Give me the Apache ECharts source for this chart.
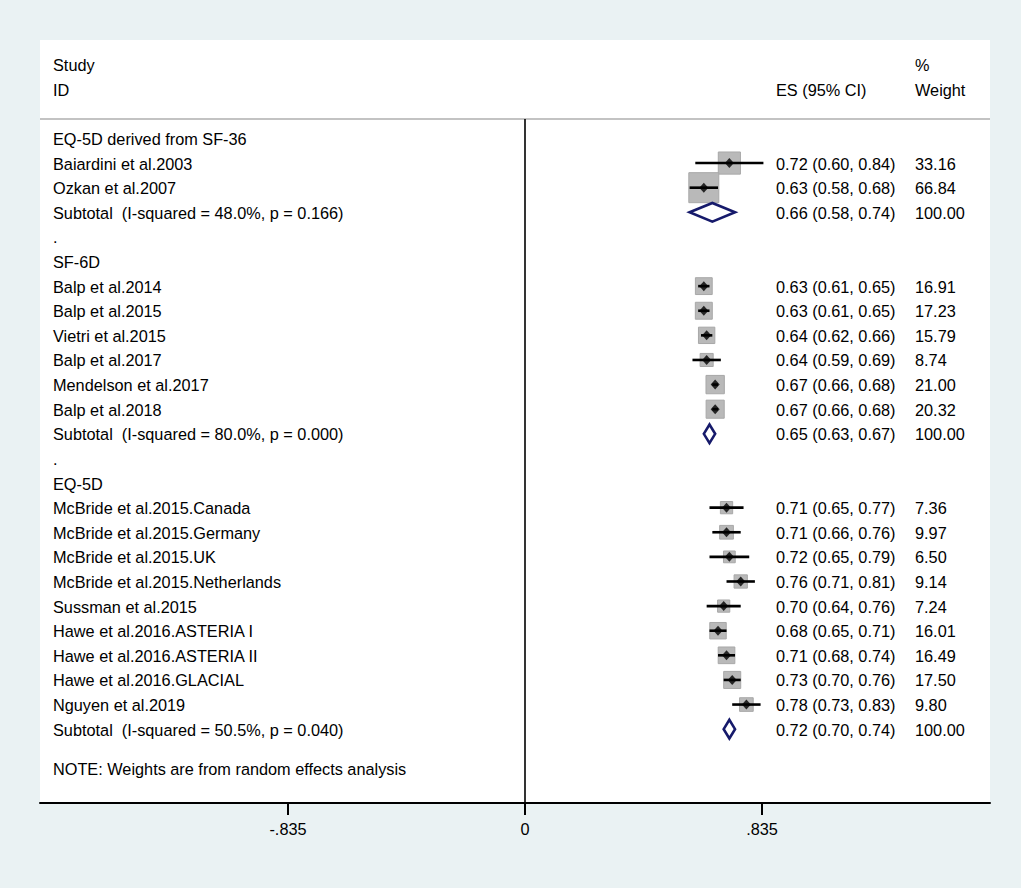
<!DOCTYPE html>
<html>
<head>
<meta charset="utf-8">
<title>Forest plot</title>
<script src="https://cdn.jsdelivr.net/npm/echarts@6/dist/echarts.min.js"></script>
<style>
  html, body { margin: 0; padding: 0; background: #eaf2f3; }
  #chart { width: 1021px; height: 888px; }
</style>
</head>
<body>
<div id="chart"></div>
<script>
// 研究名称、所在行、效应值及 95% CI、权重(%)
var studyNames = [
    'Baiardini et al.2003', 'Ozkan et al.2007',
    'Balp et al.2014', 'Balp et al.2015', 'Vietri et al.2015', 'Balp et al.2017',
    'Mendelson et al.2017', 'Balp et al.2018',
    'McBride et al.2015.Canada', 'McBride et al.2015.Germany', 'McBride et al.2015.UK',
    'McBride et al.2015.Netherlands', 'Sussman et al.2015', 'Hawe et al.2016.ASTERIA I',
    'Hawe et al.2016.ASTERIA II', 'Hawe et al.2016.GLACIAL', 'Nguyen et al.2019'
];
var studyRows = [1, 2, 6, 7, 8, 9, 10, 11, 15, 16, 17, 18, 19, 20, 21, 22, 23];
var studyES = [0.72, 0.63, 0.63, 0.63, 0.64, 0.64, 0.67, 0.67,
    0.71, 0.71, 0.72, 0.76, 0.70, 0.68, 0.71, 0.73, 0.78];
var studyLo = [0.60, 0.58, 0.61, 0.61, 0.62, 0.59, 0.66, 0.66,
    0.65, 0.66, 0.65, 0.71, 0.64, 0.65, 0.68, 0.70, 0.73];
var studyHi = [0.84, 0.68, 0.65, 0.65, 0.66, 0.69, 0.68, 0.68,
    0.77, 0.76, 0.79, 0.81, 0.76, 0.71, 0.74, 0.76, 0.83];
var studyWeight = ['33.16', '66.84', '16.91', '17.23', '15.79', '8.74', '21.00', '20.32',
    '7.36', '9.97', '6.50', '9.14', '7.24', '16.01', '16.49', '17.50', '9.80'];

// 亚组合并
var subLabels = [
    'Subtotal  (I-squared = 48.0%, p = 0.166)',
    'Subtotal  (I-squared = 80.0%, p = 0.000)',
    'Subtotal  (I-squared = 50.5%, p = 0.040)'
];
var subRows = [3, 12, 24];
var subES = [0.66, 0.65, 0.72];
var subLo = [0.58, 0.63, 0.70];
var subHi = [0.74, 0.67, 0.74];
var subWeight = ['100.00', '100.00', '100.00'];

var groupLabels = ['EQ-5D derived from SF-36', 'SF-6D', 'EQ-5D'];
var groupRows = [0, 5, 14];
var dotRows = [4, 13];

var xTicks = [-0.835, 0, 0.835];
var xTickLabels = ['-.835', '0', '.835'];

var noteText = 'NOTE: Weights are from random effects analysis';

var dom = document.getElementById('chart');
var myChart = echarts.init(dom, null, { renderer: 'svg' });

var FONT = 'Arial, "Liberation Sans", Helvetica, sans-serif';
var xMin = -1.7088, xMax = 1.6383;
var headRow = -0.79;

// 所有文字（左列 / ES 列 / 权重列）
var textItems = [];
textItems.push({ col: 'left', row: -3, text: 'Study' });
textItems.push({ col: 'left', row: -2, text: 'ID' });
textItems.push({ col: 'es', row: -2, text: 'ES (95% CI)' });
textItems.push({ col: 'w', row: -3, text: '%' });
textItems.push({ col: 'w', row: -2, text: 'Weight' });
groupLabels.forEach(function (t, i) { textItems.push({ col: 'left', row: groupRows[i], text: t }); });
dotRows.forEach(function (r) { textItems.push({ col: 'left', row: r, text: '.' }); });
studyNames.forEach(function (t, i) {
    textItems.push({ col: 'left', row: studyRows[i], text: t });
    textItems.push({ col: 'es', row: studyRows[i],
        text: studyES[i].toFixed(2) + ' (' + studyLo[i].toFixed(2) + ', ' + studyHi[i].toFixed(2) + ')' });
    textItems.push({ col: 'w', row: studyRows[i], text: studyWeight[i] });
});
subLabels.forEach(function (t, i) {
    textItems.push({ col: 'left', row: subRows[i], text: t });
    textItems.push({ col: 'es', row: subRows[i],
        text: subES[i].toFixed(2) + ' (' + subLo[i].toFixed(2) + ', ' + subHi[i].toFixed(2) + ')' });
    textItems.push({ col: 'w', row: subRows[i], text: subWeight[i] });
});
textItems.push({ col: 'left', row: 25.58, text: noteText });

var colPx = { left: 53, es: 776, w: 915 };

function boxSize(w) {
    return 3.5 + 3.24 * Math.sqrt(w);
}

var option = {
    backgroundColor: '#eaf2f3',
    animation: false,
    grid: {
        left: 40, right: 31, top: 40, bottom: 85,
        show: true, backgroundColor: '#ffffff', borderWidth: 0
    },
    xAxis: {
        type: 'value',
        min: xMin,
        max: xMax,
        splitLine: { show: false },
        axisLine: { show: true, onZero: false, lineStyle: { color: '#000', width: 2 } },
        axisTick: { show: true, customValues: xTicks, length: 12, lineStyle: { color: '#000', width: 2 } },
        axisLabel: {
            customValues: xTicks,
            margin: 18,
            color: '#000',
            fontSize: 16.3,
            fontFamily: FONT,
            formatter: function (v) {
                for (var i = 0; i < xTicks.length; i++) {
                    if (Math.abs(v - xTicks[i]) < 1e-6) return xTickLabels[i];
                }
                return '';
            }
        }
    },
    yAxis: {
        type: 'value',
        inverse: true,
        min: -4,
        max: 27,
        show: false
    },
    series: [
        {
            // 权重方块
            name: 'box',
            type: 'custom',
            silent: true,
            data: studyES.map(function (v, i) { return [v, studyRows[i], parseFloat(studyWeight[i])]; }),
            renderItem: function (params, api) {
                var c = api.coord([api.value(0), api.value(1)]);
                var s = boxSize(api.value(2));
                return {
                    type: 'rect',
                    shape: { x: c[0] - s / 2, y: c[1] - s / 2, width: s, height: s },
                    style: { fill: '#b9b9b9', stroke: '#a8a8a8', lineWidth: 1 }
                };
            },
            markLine: {
                silent: true,
                symbol: 'none',
                label: { show: false },
                data: [
                    [{ coord: [xMin, headRow], lineStyle: { color: '#c3c3c3', width: 2, type: 'solid' } },
                     { coord: [xMax, headRow] }],
                    [{ coord: [0, headRow], lineStyle: { color: '#000', width: 1.6, type: 'solid' } },
                     { coord: [0, 27] }]
                ]
            }
        },
        {
            // 95% CI 线
            name: 'ci',
            type: 'custom',
            silent: true,
            data: studyLo.map(function (v, i) { return [v, studyHi[i], studyRows[i]]; }),
            renderItem: function (params, api) {
                var a = api.coord([api.value(0), api.value(2)]);
                var b = api.coord([api.value(1), api.value(2)]);
                return {
                    type: 'line',
                    shape: { x1: a[0], y1: a[1], x2: b[0], y2: b[1] },
                    style: { stroke: '#000', lineWidth: 2.6 }
                };
            }
        },
        {
            // 点估计
            name: 'es',
            type: 'scatter',
            silent: true,
            symbol: 'diamond',
            symbolSize: [9, 10],
            itemStyle: { color: '#000' },
            data: studyES.map(function (v, i) { return [v, studyRows[i]]; })
        },
        {
            // 亚组合并菱形
            name: 'subtotal',
            type: 'custom',
            silent: true,
            data: subES.map(function (v, i) { return [v, subLo[i], subHi[i], subRows[i]]; }),
            renderItem: function (params, api) {
                var m = api.coord([api.value(0), api.value(3)]);
                var l = api.coord([api.value(1), api.value(3)]);
                var r = api.coord([api.value(2), api.value(3)]);
                var h = 9.3;
                return {
                    type: 'polygon',
                    shape: { points: [[l[0], m[1]], [m[0], m[1] - h], [r[0], m[1]], [m[0], m[1] + h]] },
                    style: { fill: 'none', stroke: '#161a6b', lineWidth: 2.6 }
                };
            }
        },
        {
            // 文字
            name: 'text',
            type: 'custom',
            silent: true,
            data: textItems.map(function (t) { return [0, t.row]; }),
            renderItem: function (params, api) {
                var t = textItems[params.dataIndex];
                var c = api.coord([0, api.value(1)]);
                return {
                    type: 'text',
                    x: colPx[t.col],
                    y: c[1] + 0.5,
                    style: {
                        text: t.text,
                        fill: '#000',
                        font: '16.3px ' + FONT,
                        textAlign: 'left',
                        textVerticalAlign: 'middle'
                    }
                };
            }
        }
    ]
};

myChart.setOption(option, true);
</script>
</body>
</html>
